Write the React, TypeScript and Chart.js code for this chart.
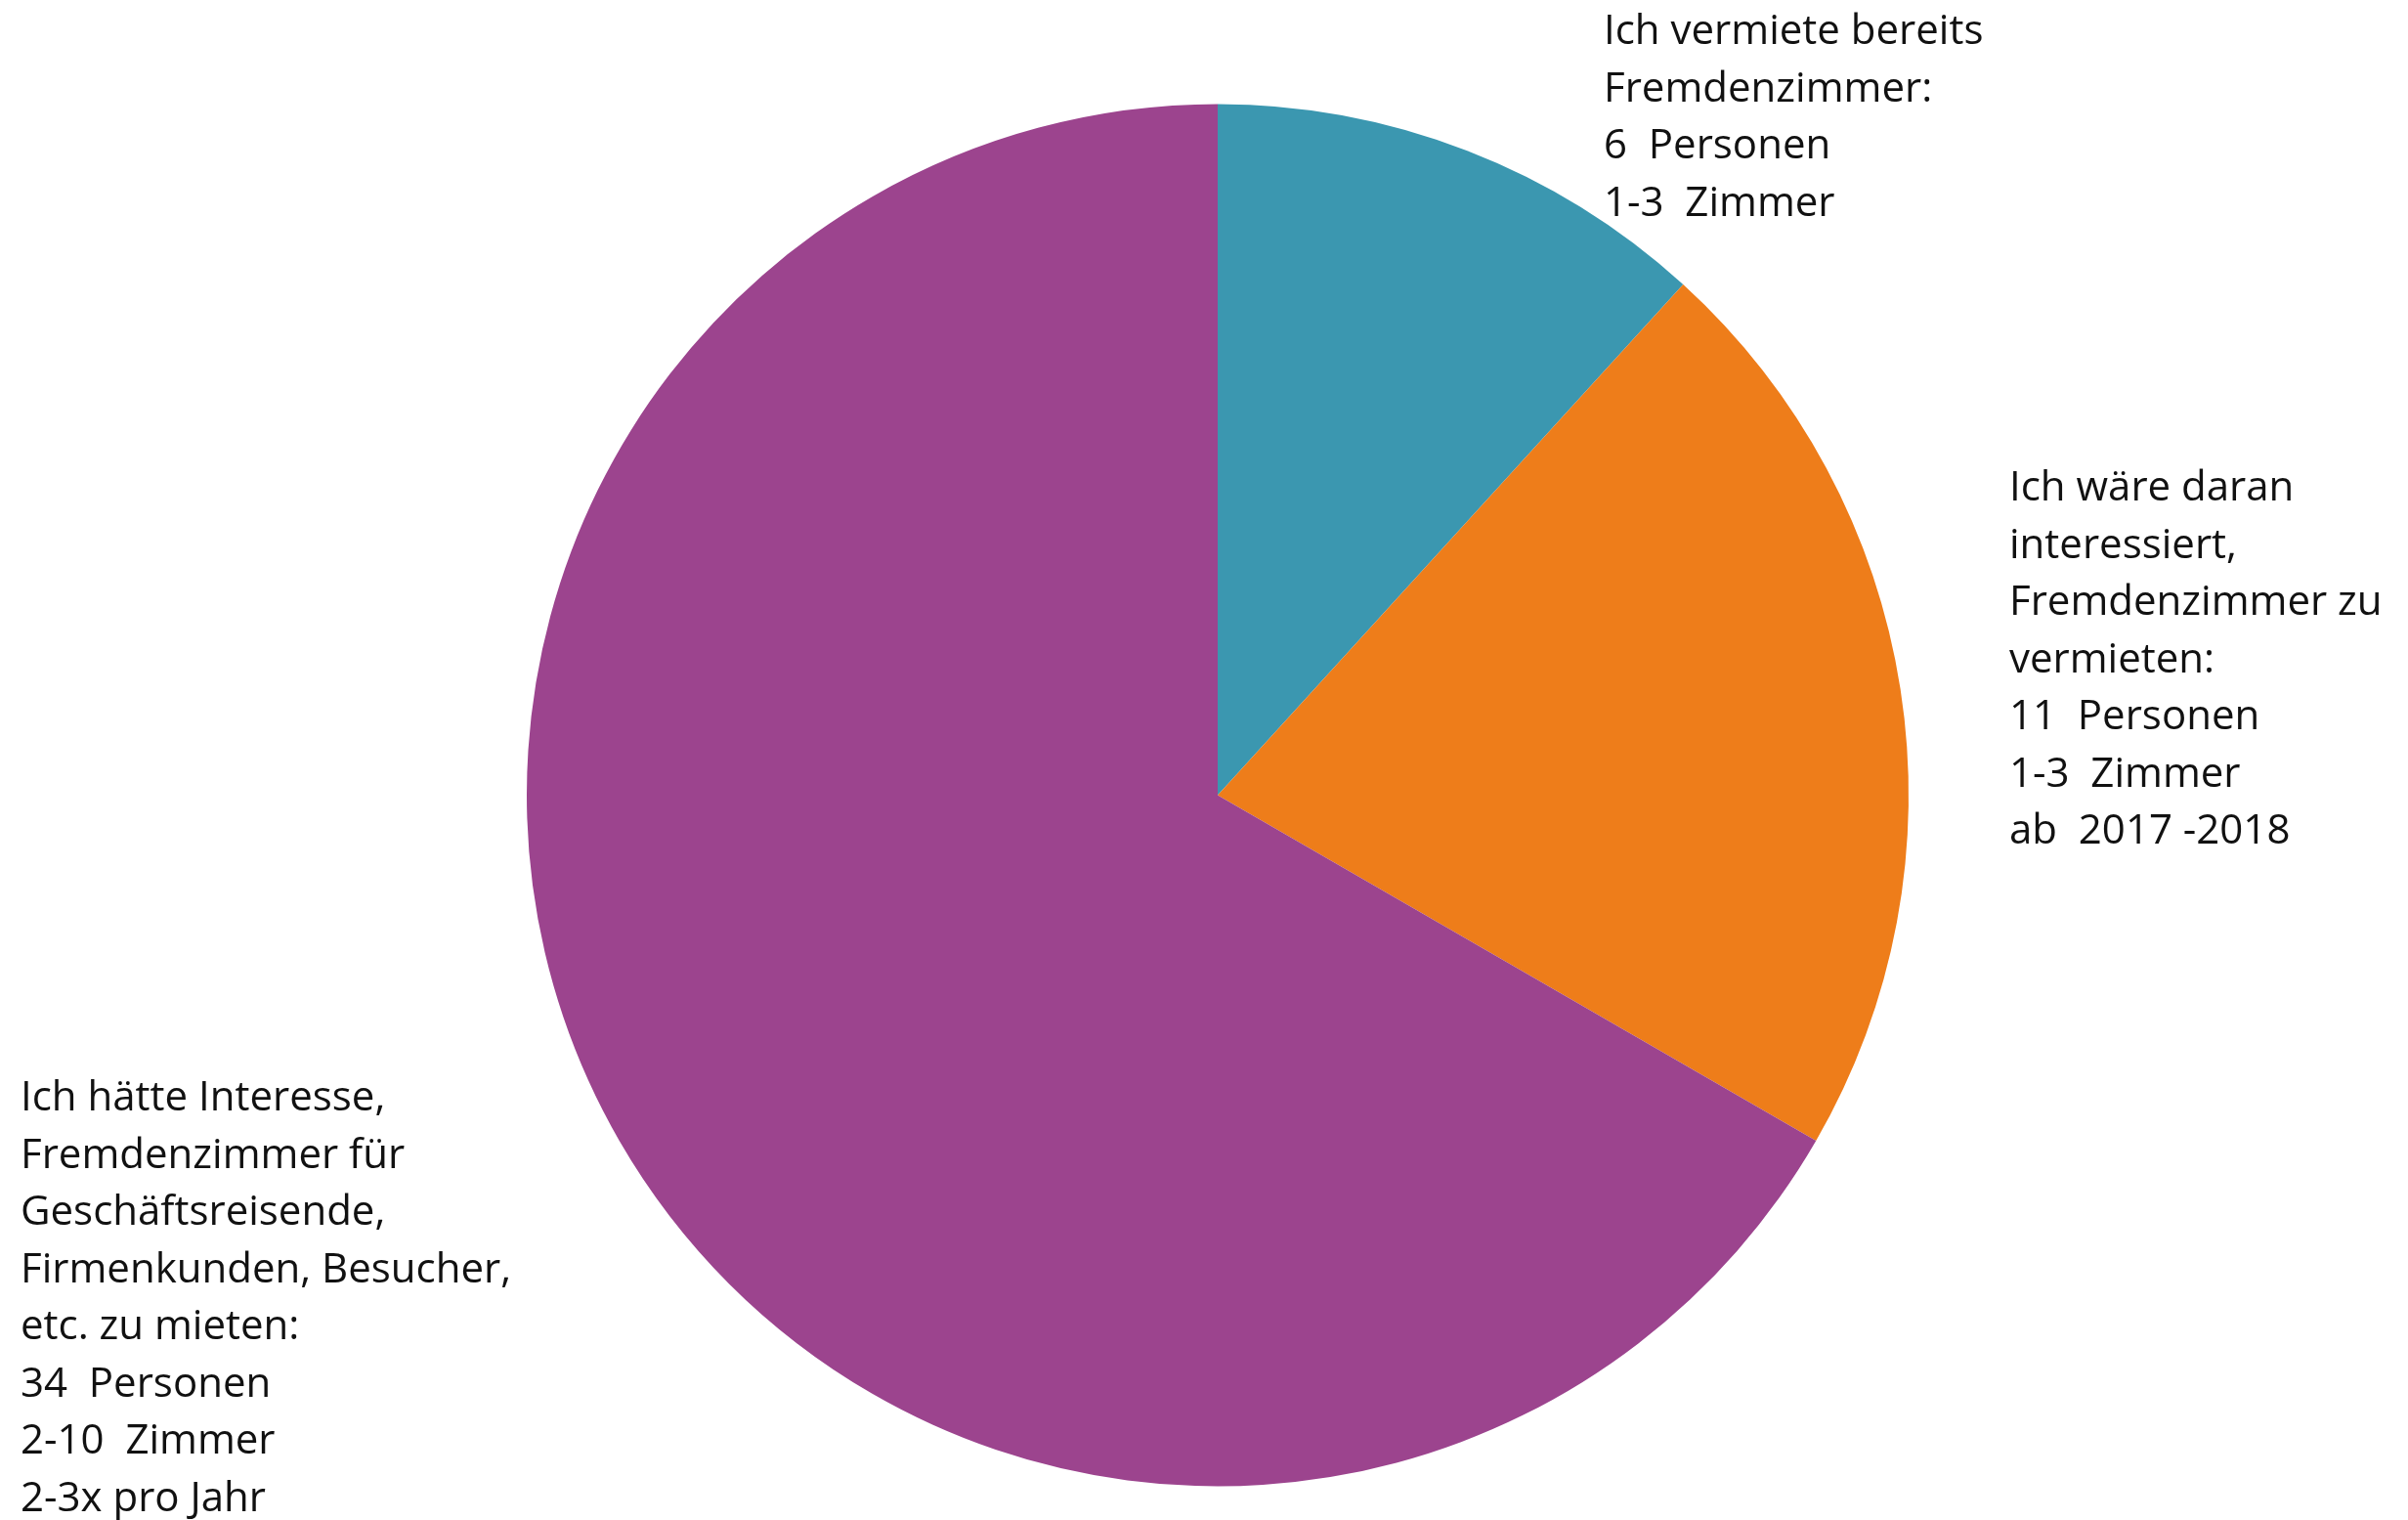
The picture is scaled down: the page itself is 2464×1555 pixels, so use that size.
import React, { useEffect, useRef } from "react";
import { Chart, registerables } from "chart.js";

Chart.register(...registerables);

const categories = [
  "Ich vermiete bereits Fremdenzimmer",
  "Ich wäre daran interessiert, Fremdenzimmer zu vermieten",
  "Ich hätte Interesse, Fremdenzimmer für Geschäftsreisende zu mieten",
];
const personen = [6, 11, 34];
const sliceColors = ["#3B97B0", "#EE7D1A", "#9C448E"];

const labelTeal = ["Ich vermiete bereits", "Fremdenzimmer:", "6  Personen", "1-3  Zimmer"];
const labelOrange = [
  "Ich wäre daran",
  "interessiert,",
  "Fremdenzimmer zu",
  "vermieten:",
  "11  Personen",
  "1-3  Zimmer",
  "ab  2017 -2018",
];
const labelPurple = [
  "Ich hätte Interesse,",
  "Fremdenzimmer für",
  "Geschäftsreisende,",
  "Firmenkunden, Besucher,",
  "etc. zu mieten:",
  "34  Personen",
  "2-10  Zimmer",
  "2-3x pro Jahr",
];

const W = 2464;
const H = 1555;

const textPlugin = {
  id: "sliceTexts",
  afterDraw(chart: any) {
    const ctx = chart.ctx;
    const blocks = [
      { lines: labelTeal, x: 1641, y: 45 },
      { lines: labelOrange, x: 2056, y: 512 },
      { lines: labelPurple, x: 21, y: 1136 },
    ];
    ctx.save();
    ctx.fillStyle = "#111111";
    ctx.font = "42px 'Open Sans'";
    ctx.textAlign = "left";
    ctx.textBaseline = "alphabetic";
    blocks.forEach((b) => {
      b.lines.forEach((line, i) => {
        ctx.fillText(line, b.x, b.y + i * 58.5);
      });
    });
    ctx.restore();
  },
};

export default function App() {
  const ref = useRef<HTMLCanvasElement>(null);
  useEffect(() => {
    if (!ref.current) return;
    const chart = new Chart(ref.current, {
      type: "pie",
      data: {
        labels: categories,
        datasets: [
          {
            data: personen,
            backgroundColor: sliceColors,
            borderWidth: 0,
          },
        ],
      },
      options: {
        responsive: false,
        devicePixelRatio: 1,
        animation: false,
        layout: { padding: { left: 539, right: 511, top: 106, bottom: 34 } },
        plugins: {
          legend: { display: false },
          tooltip: { enabled: false },
        },
      },
      plugins: [textPlugin],
    });
    return () => chart.destroy();
  }, []);
  return (
    <div style={{ position: "fixed", left: 0, top: 0, width: W, height: H, background: "#ffffff" }}>
      <canvas ref={ref} width={W} height={H} style={{ width: W, height: H }} />
    </div>
  );
}
